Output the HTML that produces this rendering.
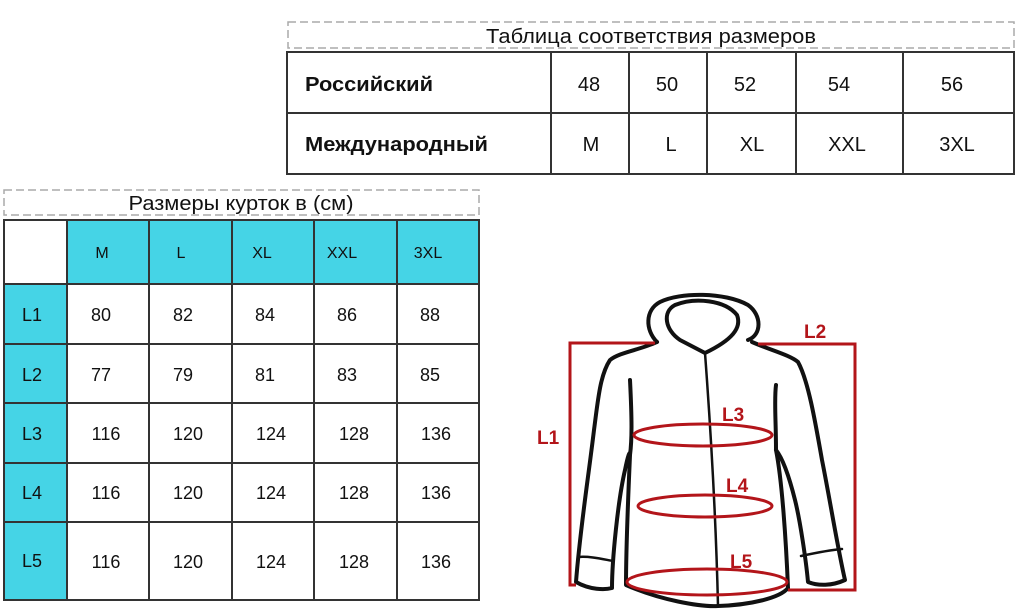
<!DOCTYPE html>
<html><head><meta charset="utf-8"><style>
html,body{margin:0;padding:0;background:#fff;width:1020px;height:612px;overflow:hidden}
svg text{font-family:"Liberation Sans",Arial,sans-serif;fill:#111}
</style></head><body>
<svg width="1020" height="612" viewBox="0 0 1020 612" xmlns="http://www.w3.org/2000/svg">
<!-- Top table -->
<rect x="288" y="22" width="726" height="26" fill="none" stroke="#aaa" stroke-width="1.5" stroke-dasharray="8,4"/>
<text x="651" y="43" font-size="20" text-anchor="middle" textLength="330" lengthAdjust="spacingAndGlyphs">Таблица соответствия размеров</text>
<g stroke="#333" stroke-width="2" fill="none">
<rect x="287" y="52" width="727" height="122"/>
<line x1="287" y1="113" x2="1014" y2="113"/>
<line x1="551" y1="52" x2="551" y2="174"/>
<line x1="629" y1="52" x2="629" y2="174"/>
<line x1="707" y1="52" x2="707" y2="174"/>
<line x1="796" y1="52" x2="796" y2="174"/>
<line x1="903" y1="52" x2="903" y2="174"/>
</g>
<g font-size="20">
<text x="305" y="91" font-weight="bold" textLength="128" lengthAdjust="spacingAndGlyphs">Российский</text>
<text x="305" y="151" font-weight="bold" textLength="183" lengthAdjust="spacingAndGlyphs">Международный</text>
<g text-anchor="middle">
<text x="589" y="91">48</text><text x="667" y="91">50</text><text x="745" y="91">52</text><text x="839" y="91">54</text><text x="952" y="91">56</text>
<text x="591" y="151">M</text><text x="671" y="151">L</text><text x="752" y="151">XL</text><text x="847" y="151">XXL</text><text x="957" y="151">3XL</text>
</g></g>
<!-- Left table -->
<rect x="4" y="190" width="475" height="25" fill="none" stroke="#aaa" stroke-width="1.5" stroke-dasharray="8,4"/>
<text x="241" y="210" font-size="20" text-anchor="middle" textLength="225" lengthAdjust="spacingAndGlyphs">Размеры курток в (см)</text>
<rect x="67" y="220" width="412" height="64" fill="#45d4e6"/>
<rect x="4" y="284" width="63" height="316" fill="#45d4e6"/>
<g stroke="#333" stroke-width="2" fill="none">
<rect x="4" y="220" width="475" height="380"/>
<line x1="4" y1="284" x2="479" y2="284"/><line x1="4" y1="344" x2="479" y2="344"/>
<line x1="4" y1="403" x2="479" y2="403"/><line x1="4" y1="463" x2="479" y2="463"/>
<line x1="4" y1="522" x2="479" y2="522"/>
<line x1="67" y1="220" x2="67" y2="600"/><line x1="149" y1="220" x2="149" y2="600"/>
<line x1="232" y1="220" x2="232" y2="600"/><line x1="314" y1="220" x2="314" y2="600"/>
<line x1="397" y1="220" x2="397" y2="600"/>
</g>
<g font-size="16" text-anchor="middle">
<text x="102" y="258">M</text><text x="181" y="258">L</text><text x="262" y="258">XL</text><text x="342" y="258">XXL</text><text x="428" y="258">3XL</text>
</g>
<g font-size="18" text-anchor="middle">
<text x="32" y="321">L1</text><text x="32" y="381">L2</text><text x="32" y="440">L3</text><text x="32" y="499">L4</text><text x="32" y="567">L5</text>
<text x="101" y="321">80</text><text x="183" y="321">82</text><text x="265" y="321">84</text><text x="347" y="321">86</text><text x="430" y="321">88</text>
<text x="101" y="381">77</text><text x="183" y="381">79</text><text x="265" y="381">81</text><text x="347" y="381">83</text><text x="430" y="381">85</text>
<text x="106" y="440">116</text><text x="188" y="440">120</text><text x="271" y="440">124</text><text x="354" y="440">128</text><text x="436" y="440">136</text>
<text x="106" y="499">116</text><text x="188" y="499">120</text><text x="271" y="499">124</text><text x="354" y="499">128</text><text x="436" y="499">136</text>
<text x="106" y="568">116</text><text x="188" y="568">120</text><text x="271" y="568">124</text><text x="354" y="568">128</text><text x="436" y="568">136</text>
</g>
<!-- Jacket -->
<g stroke="#111" stroke-width="4" fill="none" stroke-linejoin="round" stroke-linecap="round">
<path d="M657,342 C645,330 645,310 660,302 C680,292 725,292 748,305 C762,315 762,335 748,340"/>
<path d="M705,353 L680,340 C665,330 662,312 675,305 C695,297 725,300 737,315 C742,328 732,340 705,353"/>
<path d="M657,342 C640,350 620,352 610,360 C600,375 598,400 594,430 C588,480 580,530 576,582 C590,590 605,590 612,588 C612,560 618,500 625,470 C628,455 630,450 630,455"/>
<path d="M630,380 C632,420 632,440 630,455 C628,500 626,550 626,585 C660,600 700,607 718,606 C750,605 780,598 788,588 C786,540 782,480 776,450 C776,420 774,400 776,385"/>
<path d="M752,342 C770,350 790,355 798,362 C808,380 815,420 822,460 C830,500 838,550 845,580 C832,586 818,586 808,582 C806,560 800,520 795,500 C790,480 784,460 776,450"/>
<path d="M705,353 C710,420 716,520 718,606" stroke-width="2.5"/>
<path d="M578,557 C590,556 602,559 613,561" stroke-width="2.5"/>
<path d="M801,556 C815,553 830,550 842,549" stroke-width="2.5"/>
</g>
<g stroke="#b3151a" stroke-width="3" fill="none">
<polyline points="655,343 570,343 570,585 576,585"/>
<polyline points="758,344 855,344 855,590 788,590"/>
<ellipse cx="703" cy="435" rx="69" ry="11"/>
<ellipse cx="705" cy="506" rx="67" ry="11"/>
<ellipse cx="707" cy="582" rx="80" ry="13"/>
</g>
<g font-size="19" font-weight="bold" style="fill:#b3151a">
<text x="537" y="444" style="fill:#b3151a">L1</text>
<text x="804" y="338" style="fill:#b3151a">L2</text>
<text x="722" y="421" style="fill:#b3151a">L3</text>
<text x="726" y="492" style="fill:#b3151a">L4</text>
<text x="730" y="568" style="fill:#b3151a">L5</text>
</g>
</svg>
</body></html>
